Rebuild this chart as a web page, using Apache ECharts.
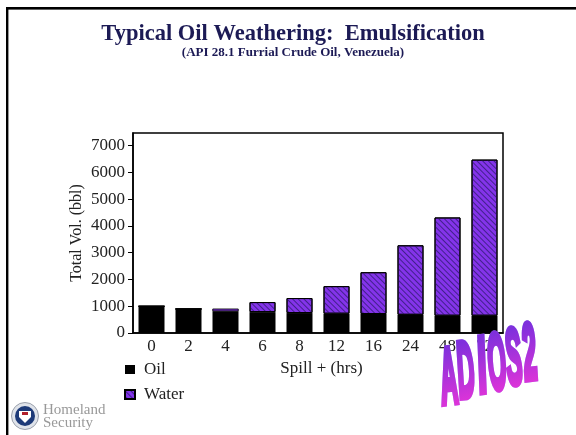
<!DOCTYPE html>
<html>
<head>
<meta charset="utf-8">
<style>html,body{margin:0;padding:0;background:#fff}#c{width:576px;height:435px}</style>
<script src="https://cdn.jsdelivr.net/npm/echarts@6/dist/echarts.min.js"></script>
</head>
<body>
<div id="c"></div>
<script>
// Emulsification of weathered crude: oil and entrained water volumes by spill age.
const categories = ['0', '2', '4', '6', '8', '12', '16', '24', '48', '72'];
const oilVolume = [1000, 900, 815, 780, 745, 720, 710, 680, 645, 645];
const waterVolume = [0, 0, 90, 375, 560, 1030, 1560, 2595, 3670, 5830];
const yTicks = [0, 1000, 2000, 3000, 4000, 5000, 6000, 7000];

const SERIF = '"Liberation Serif","Times New Roman",serif';
const INK = '#222222';
const wordmark = [
  { ch: 'A', x: 449, y: 381, sx: 0.66, sy: 2.2 },
  { ch: 'D', x: 466, y: 375, sx: 0.66, sy: 2.2 },
  { ch: 'I', x: 482, y: 370, sx: 0.90, sy: 2.2 },
  { ch: 'O', x: 497, y: 367, sx: 0.64, sy: 2.2 },
  { ch: 'S', x: 514, y: 362, sx: 0.66, sy: 2.2 },
  { ch: '2', x: 530, y: 357, sx: 0.68, sy: 2.2 }
];

const chart = echarts.init(document.getElementById('c'), null, { renderer: 'canvas' });
chart.setOption({
  animation: false,
  backgroundColor: '#ffffff',
  grid: { left: 133, right: 73, top: 133, bottom: 102, show: true, borderColor: '#000', borderWidth: 1.5, backgroundColor: 'transparent' },
  legend: {
    orient: 'vertical', left: 119, top: 356, itemWidth: 10, itemHeight: 9, itemGap: 8,
    data: [{ name: 'Oil', icon: 'rect' }, { name: 'Water', icon: 'rect' }],
    textStyle: { fontFamily: SERIF, fontSize: 17, color: INK, padding: [0, 0, 0, 4] },
    selectedMode: false
  },
  xAxis: {
    type: 'category', data: categories,
    name: 'Spill + (hrs)', nameLocation: 'middle', nameGap: 27,
    nameTextStyle: { fontFamily: SERIF, fontSize: 17, color: INK, padding: [0, 0, 0, 7] },
    axisLine: { lineStyle: { color: '#000', width: 1.5 } },
    axisTick: { alignWithLabel: true, length: 4, lineStyle: { color: '#000' } },
    axisLabel: { fontFamily: SERIF, fontSize: 17, color: INK, margin: 5, interval: 0 }
  },
  yAxis: {
    type: 'value', min: 0, max: 7468,
    name: 'Total Vol. (bbl)', nameLocation: 'middle', nameGap: 48, nameRotate: 90, nameMoveOverlap: false,
    nameTextStyle: { fontFamily: SERIF, fontSize: 16, color: INK },
    splitLine: { show: false },
    axisLine: { show: true, lineStyle: { color: '#000', width: 1.5 } },
    axisTick: { show: true, length: 5, customValues: yTicks, lineStyle: { color: '#000' } },
    axisLabel: { fontFamily: SERIF, fontSize: 17, color: INK, margin: 8, customValues: yTicks, formatter: v => String(v) }
  },
  series: [
    {
      name: 'Oil', type: 'bar', stack: 'vol', barWidth: 26, data: oilVolume,
      itemStyle: { color: '#000000' }
    },
    {
      name: 'Water', type: 'bar', stack: 'vol', barWidth: 25,
      // The thinnest layer is too shallow to carry hatching, so it shows as a plain sliver.
      data: waterVolume.map(v => v > 0 && v < 100
        ? { value: v, itemStyle: { borderWidth: 0.5, decal: { symbol: 'none' } } }
        : v),
      itemStyle: {
        color: '#8434ea', borderColor: '#000', borderWidth: 1,
        decal: { symbol: 'rect', color: '#42208c', dashArrayX: [1, 0], dashArrayY: [1, 3], rotation: Math.PI / 4 }
      }
    }
  ],
  graphic: [
    { type: 'rect', silent: true, shape: { x: 6, y: 9, width: 570, height: 1 }, style: { fill: '#c4c4c4' } },
    { type: 'rect', silent: true, shape: { x: 6, y: 7, width: 570, height: 2.4 }, style: { fill: '#000' } },
    { type: 'rect', silent: true, shape: { x: 6, y: 7, width: 2.4, height: 428 }, style: { fill: '#000' } },
    { type: 'text', silent: true, x: 293, y: 34, style: { text: 'Typical Oil Weathering:  Emulsification', align: 'center', verticalAlign: 'middle', fill: '#1c1a55', font: 'bold 22.5px ' + SERIF, shadowColor: 'rgba(70,70,70,0.8)', shadowBlur: 2, shadowOffsetX: 1, shadowOffsetY: 1 } },
    { type: 'text', silent: true, x: 293, y: 53, style: { text: '(API 28.1 Furrial Crude Oil, Venezuela)', align: 'center', verticalAlign: 'middle', fill: '#1c1a55', font: 'bold 13px ' + SERIF, shadowColor: 'rgba(70,70,70,0.6)', shadowBlur: 1, shadowOffsetX: 1, shadowOffsetY: 1 } },
    { type: 'circle', silent: true, shape: { cx: 25, cy: 416, r: 13.5 }, style: { fill: '#dfe3ea', stroke: '#9aa0ab', lineWidth: 1 } },
    { type: 'circle', silent: true, shape: { cx: 25, cy: 416, r: 10 }, style: { fill: '#1d3a78' } },
    { type: 'polygon', silent: true, shape: { points: [[19, 411], [31, 411], [31, 417], [25, 423], [19, 417]] }, style: { fill: '#ffffff' } },
    { type: 'rect', silent: true, shape: { x: 22, y: 412, width: 6, height: 3 }, style: { fill: '#b0202c' } },
    { type: 'text', silent: true, x: 43, y: 410, style: { text: 'Homeland', fill: '#999999', font: '15px ' + SERIF, verticalAlign: 'middle' } },
    { type: 'text', silent: true, x: 43, y: 423, style: { text: 'Security', fill: '#999999', font: '15px ' + SERIF, verticalAlign: 'middle' } }
  ]
});

// Slanted wordmark on its own layers: a soft lavender glow below, solid letters above,
// then a gradient rectangle blended onto the letter pixels only.
const zr = chart.getZr();
function addLetter(l, zlevel, style) {
  zr.add(new echarts.graphic.Text({
    silent: true, x: l.x, y: l.y, rotation: 0.12, scaleX: l.sx, scaleY: l.sy, zlevel, z: 1,
    style: Object.assign({
      text: l.ch, align: 'center', verticalAlign: 'middle',
      font: 'italic bold 36px "Liberation Sans",sans-serif', lineWidth: 3
    }, style)
  }));
}
wordmark.forEach(l => {
  addLetter(l, 5, { fill: 'rgba(150,150,255,0.7)', stroke: 'rgba(150,150,255,0.7)', shadowColor: 'rgba(130,130,255,0.9)', shadowBlur: 4, shadowOffsetX: 2, shadowOffsetY: 2 });
  addLetter(l, 6, { fill: '#a030dc', stroke: '#a030dc' });
});
zr.add(new echarts.graphic.Rect({
  silent: true, zlevel: 6, z: 2,
  shape: { x: 425, y: 310, width: 130, height: 110 },
  style: {
    blend: 'source-atop',
    fill: new echarts.graphic.LinearGradient(485, 336, 501, 394, [
      { offset: 0, color: '#7f30dc' },
      { offset: 1, color: '#e034d8' }
    ], true)
  }
}));
</script>
</body>
</html>
